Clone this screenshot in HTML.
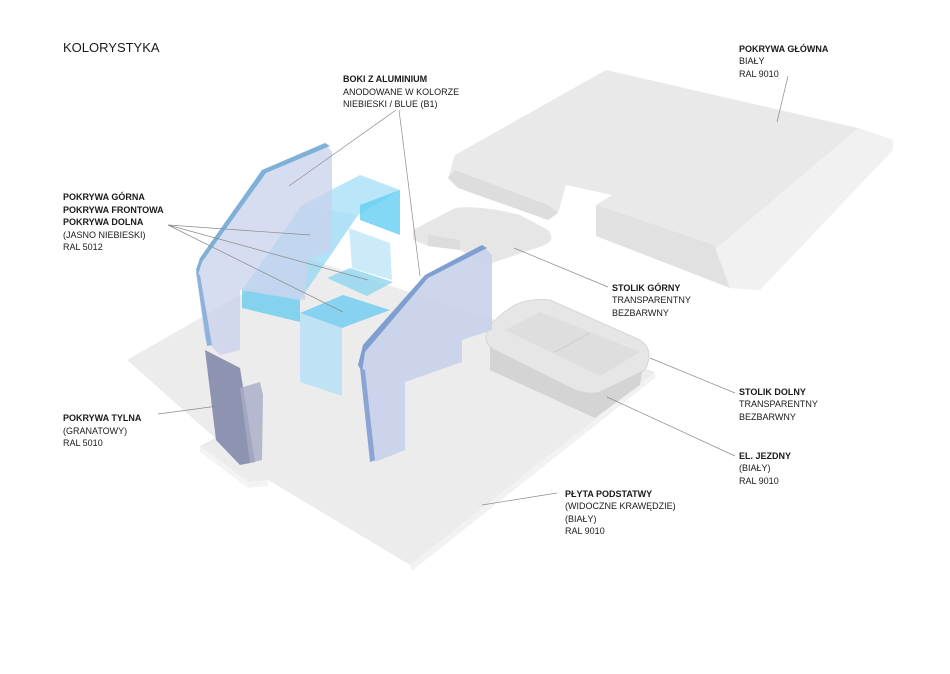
<!DOCTYPE html>
<html><head><meta charset="utf-8"><style>
html,body{margin:0;padding:0;background:#fff;}
svg{display:block;}
text{font-family:"Liberation Sans",sans-serif;font-size:9px;fill:#1a1a1a;}
.b{font-weight:bold;}
</style></head><body>
<svg width="950" height="674" viewBox="0 0 950 674" xmlns="http://www.w3.org/2000/svg">
<!-- base plate -->
<polygon points="127,360 305,258 655,372 410,565 268,480 248,482 200,446 215,438" fill="#ececec"/>
<polygon points="200,446 248,482 268,480 268,486 248,488 200,452" fill="#f3f3f3"/>
<polygon points="410,565 655,372 655,378 412,571" fill="#f2f2f2"/>

<!-- main cover -->
<polygon points="455,155 606,70 858,128 893,140 893,150 760,290 730,288 714,270 596,220 596,205 612,195 566,185 558,213 548,220 458,188 448,178" fill="#e8e9e8"/>
<polygon points="858,128 893,140 893,150 760,290 730,288 714,250" fill="#f0f1f0"/>
<polygon points="448,178 458,188 548,220 558,213 548,205 455,170" fill="#dcdddc"/>
<polygon points="596,205 714,245 730,288 596,236" fill="#e0e1e0"/>

<!-- stolik gorny -->
<path d="M413,230 L455,208 Q480,205 520,215 L548,230 Q556,240 545,245 L495,262 Q485,266 480,262 L460,250 L428,246 L413,240 Z" fill="#e6e6e6"/>
<polygon points="428,235 460,240 460,250 428,246" fill="#dcdcdc"/>

<!-- stolik dolny -->
<polygon points="490,340 490,370 595,418 640,385 645,355 540,310" fill="#d4d4d4"/>
<path d="M486,335 Q490,320 515,305 Q530,298 550,300 L640,340 Q655,350 645,370 L600,392 Q590,395 575,390 L495,350 Q485,345 486,335 Z" fill="#e6e6e6" stroke="#d6d6d6"/>
<polygon points="505,330 540,312 640,352 600,376" fill="#dedede"/>
<line x1="555" y1="352" x2="590" y2="333" stroke="#cfcfcf"/>

<!-- blue middle parts -->
<polygon points="302,205 360,175 400,190 358,215" fill="#a8e0f7" opacity="0.8"/>
<polygon points="302,205 358,215 300,300 242,290" fill="#8fd6f4" opacity="0.7"/>
<polygon points="360,205 400,190 400,235 360,220" fill="#63cef2" opacity="0.8"/>
<polygon points="242,290 300,300 300,322 242,308" fill="#58c8f0" opacity="0.7"/>
<polygon points="349,228 390,243 392,280 352,268" fill="#bfe6f8" opacity="0.8"/>
<polygon points="327,278 350,268 393,282 367,296" fill="#8fd5f0" opacity="0.8"/>
<polygon points="300,313 343,295 390,310 342,328" fill="#86d2f0"/>
<polygon points="300,313 342,328 342,396 300,382" fill="#bfe3f5"/>

<!-- left side panel -->
<polygon points="262,170 325,143 332,152 332,250 308,260 305,300 240,290 240,350 220,355 205,340 196,270 200,258" fill="#c9d2ec" opacity="0.75"/>
<polygon points="262,170 325,143 330,146 266,173 202,262 198,275 196,270 200,258" fill="#7fb0d8"/>
<polygon points="196,272 200,275 212,345 207,346" fill="#8fb2da"/>

<!-- back cover -->
<polygon points="205,350 240,368 255,462 240,465 216,440" fill="#7f84a8" opacity="0.85"/>
<polygon points="240,388 260,382 263,395 262,460 250,463" fill="#a9adc6" opacity="0.8"/>

<!-- right side panel -->
<polygon points="425,275 482,245 492,255 492,330 462,340 462,362 405,382 405,450 380,460 372,462 362,375 363,345" fill="#c9d2ec" opacity="0.9"/>
<polygon points="425,275 482,245 487,248 428,278 365,352 362,372 358,365 363,345" fill="#7f9fd0"/>
<polygon points="360,368 365,370 375,460 370,462" fill="#8aa4d4"/>

<!-- leader lines -->
<g stroke="#8c8c8c" stroke-width="0.7" fill="none">
<line x1="396" y1="110" x2="289" y2="186"/>
<line x1="399" y1="110" x2="420" y2="276"/>
<line x1="168" y1="225" x2="310" y2="235"/>
<line x1="168" y1="225" x2="368" y2="280"/>
<line x1="168" y1="225" x2="343" y2="312"/>
<line x1="158" y1="414" x2="218" y2="406"/>
<line x1="788" y1="76" x2="777" y2="122"/>
<line x1="514" y1="248" x2="608" y2="287"/>
<line x1="650" y1="358" x2="735" y2="393"/>
<line x1="607" y1="397" x2="735" y2="456"/>
<line x1="482" y1="505" x2="557" y2="493"/>
</g>

<!-- labels -->
<text x="63" y="52" style="font-size:13px">KOLORYSTYKA</text>
<text x="343" y="82" class="b">BOKI Z ALUMINIUM</text>
<text x="343" y="95">ANODOWANE W KOLORZE</text>
<text x="343" y="107">NIEBIESKI / BLUE (B1)</text>
<text x="63" y="200" class="b">POKRYWA GÓRNA</text>
<text x="63" y="213" class="b">POKRYWA FRONTOWA</text>
<text x="63" y="225" class="b">POKRYWA DOLNA</text>
<text x="63" y="238">(JASNO NIEBIESKI)</text>
<text x="63" y="250">RAL 5012</text>
<text x="63" y="421" class="b">POKRYWA TYLNA</text>
<text x="63" y="434">(GRANATOWY)</text>
<text x="63" y="446">RAL 5010</text>
<text x="739" y="52" class="b">POKRYWA GŁÓWNA</text>
<text x="739" y="64">BIAŁY</text>
<text x="739" y="77">RAL 9010</text>
<text x="612" y="291" class="b">STOLIK GÓRNY</text>
<text x="612" y="303">TRANSPARENTNY</text>
<text x="612" y="316">BEZBARWNY</text>
<text x="739" y="395" class="b">STOLIK DOLNY</text>
<text x="739" y="407">TRANSPARENTNY</text>
<text x="739" y="420">BEZBARWNY</text>
<text x="739" y="459" class="b">EL. JEZDNY</text>
<text x="739" y="471">(BIAŁY)</text>
<text x="739" y="484">RAL 9010</text>
<text x="565" y="497" class="b">PŁYTA PODSTATWY</text>
<text x="565" y="509">(WIDOCZNE KRAWĘDZIE)</text>
<text x="565" y="522">(BIAŁY)</text>
<text x="565" y="534">RAL 9010</text>
</svg>
</body></html>
